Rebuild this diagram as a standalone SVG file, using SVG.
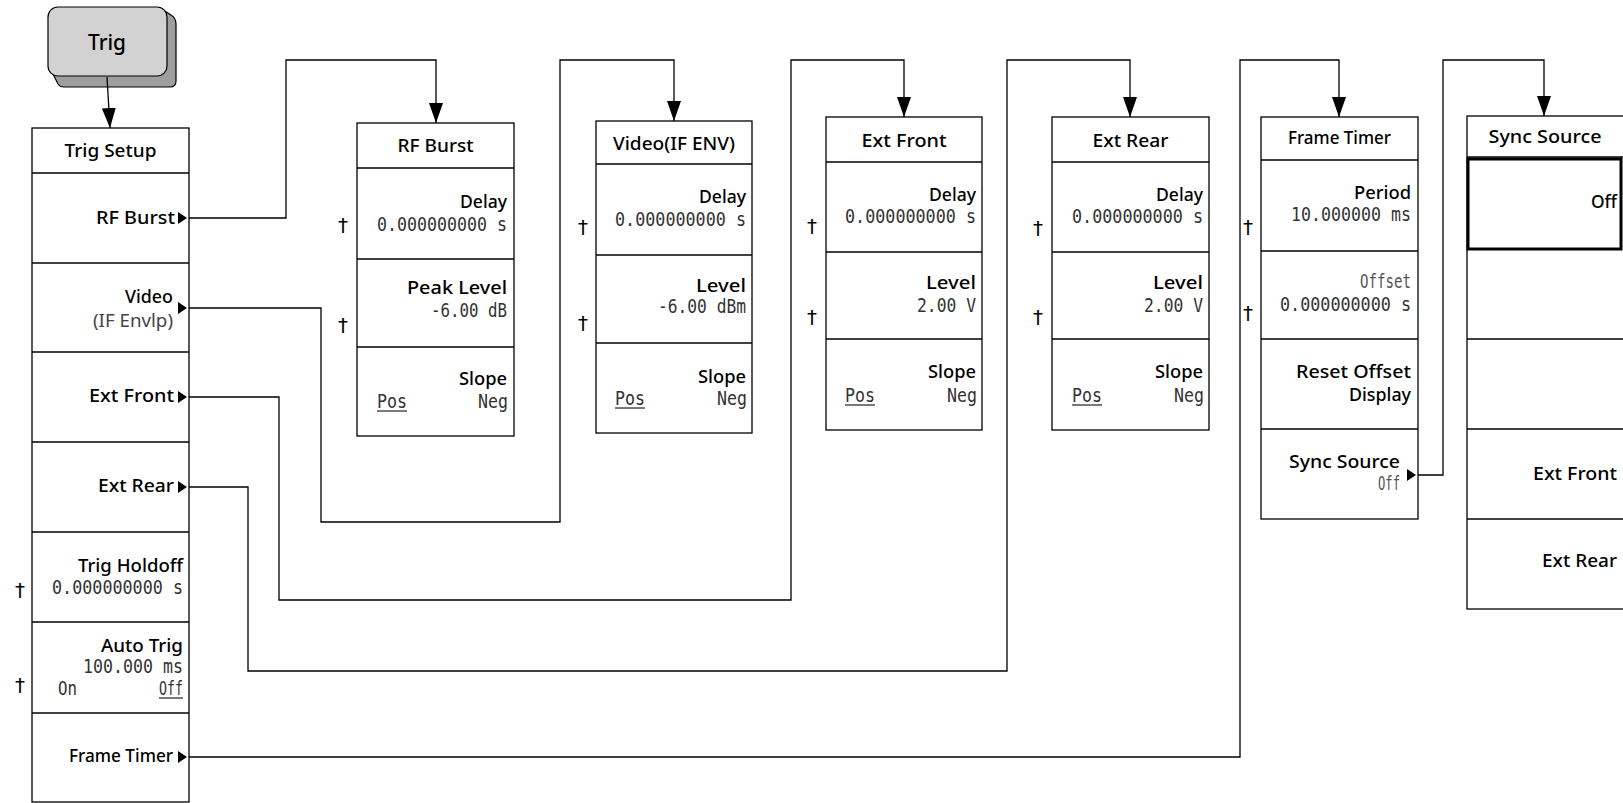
<svg xmlns="http://www.w3.org/2000/svg" width="1623" height="803" viewBox="0 0 1623 803">
<style>
.box{fill:#fff;stroke:#000;stroke-width:1.3}
.dv{stroke:#000;stroke-width:1.3}
.lbl{font-family:"Noto Sans","DejaVu Sans",sans-serif;font-weight:500;font-size:18.5px;fill:#000}
.val{font-family:"DejaVu Sans Mono","Liberation Mono",monospace;font-size:19px;fill:#333}
.lt{font-family:"Noto Sans","DejaVu Sans",sans-serif;font-size:18px;fill:#444}
.dag{font-family:"DejaVu Sans",sans-serif;font-size:20px;fill:#000;text-anchor:middle}
.e{text-anchor:end}
.m{text-anchor:middle}
.wire{fill:none;stroke:#000;stroke-width:1.3}
.tri{fill:#000}
.ul{stroke:#222;stroke-width:1.2}
</style>
<defs>
<marker id="ah" markerUnits="userSpaceOnUse" markerWidth="20" markerHeight="14" viewBox="0 0 20 14" refX="20" refY="7" orient="auto">
<path d="M0,0 L20,7 L0,14 Z" fill="#000"/>
</marker>
</defs>
<rect width="1623" height="803" fill="#fff"/>

<g id="trig">
<path d="M50,68 L58,84 Q60,87 64,87 L170,87 Q176,87 176,81 L176,24 Q176,18 171,15 L160,8 Z" fill="#9e9e9e" stroke="#000" stroke-width="1.2"/>
<rect x="48" y="7" width="119" height="69" rx="10" fill="#d2d2d2" stroke="#000" stroke-width="1.2"/>
<text class="lbl m" x="107" y="50" style="font-size:22px" textLength="38" lengthAdjust="spacingAndGlyphs">Trig</text>
</g>

<g id="connectors">
<path class="wire" d="M107,77 L110,128" marker-end="url(#ah)"/>
<path class="wire" d="M188,218 H286 V60 H436 V123" marker-end="url(#ah)"/>
<path class="wire" d="M188,308 H321 V522 H560 V60 H674 V121" marker-end="url(#ah)"/>
<path class="wire" d="M188,397 H279 V600 H791 V60 H904 V117" marker-end="url(#ah)"/>
<path class="wire" d="M188,487 H248 V671 H1007 V60 H1130 V117" marker-end="url(#ah)"/>
<path class="wire" d="M188,757 H1240 V60 H1339 V117" marker-end="url(#ah)"/>
<path class="wire" d="M1416,475 H1443 V60 H1544 V116" marker-end="url(#ah)"/>
</g>

<g id="trig-setup">
<rect class="box" x="32" y="128" width="157" height="674"/>
<line class="dv" x1="32" y1="173" x2="189" y2="173"/>
<line class="dv" x1="32" y1="263" x2="189" y2="263"/>
<line class="dv" x1="32" y1="352" x2="189" y2="352"/>
<line class="dv" x1="32" y1="442" x2="189" y2="442"/>
<line class="dv" x1="32" y1="532" x2="189" y2="532"/>
<line class="dv" x1="32" y1="622" x2="189" y2="622"/>
<line class="dv" x1="32" y1="713" x2="189" y2="713"/>
<text class="lbl m" x="110.5" y="157" textLength="92" lengthAdjust="spacingAndGlyphs">Trig Setup</text>
<text class="lbl e" x="175" y="224" textLength="79" lengthAdjust="spacingAndGlyphs">RF Burst</text>
<polygon class="tri" points="178,212 187,218 178,224"/>
<text class="lbl e" x="173" y="303" textLength="48" lengthAdjust="spacingAndGlyphs">Video</text>
<text class="lt e" x="173" y="327" textLength="80" lengthAdjust="spacingAndGlyphs">(IF Envlp)</text>
<polygon class="tri" points="178,302 187,308 178,314"/>
<text class="lbl e" x="174" y="402" textLength="85" lengthAdjust="spacingAndGlyphs">Ext Front</text>
<polygon class="tri" points="178,391 187,397 178,403"/>
<text class="lbl e" x="174" y="492" textLength="76" lengthAdjust="spacingAndGlyphs">Ext Rear</text>
<polygon class="tri" points="178,481 187,487 178,493"/>
<text class="lbl e" x="183" y="572" textLength="105" lengthAdjust="spacingAndGlyphs">Trig Holdoff</text>
<text class="val e" x="183" y="594" textLength="131" lengthAdjust="spacingAndGlyphs">0.000000000 s</text>
<text class="dag" x="20" y="597">†</text>
<text class="lbl e" x="183" y="652" textLength="82" lengthAdjust="spacingAndGlyphs">Auto Trig</text>
<text class="val e" x="183" y="673" textLength="100" lengthAdjust="spacingAndGlyphs">100.000 ms</text>
<text class="val" x="58" y="695" textLength="19" lengthAdjust="spacingAndGlyphs">On</text>
<text class="val e" x="183" y="695" textLength="24" lengthAdjust="spacingAndGlyphs">Off</text>
<line class="ul" x1="159" y1="698" x2="183" y2="698"/>
<text class="dag" x="20" y="692">†</text>
<text class="lbl e" x="173" y="762" textLength="104" lengthAdjust="spacingAndGlyphs">Frame Timer</text>
<polygon class="tri" points="178,751 187,757 178,763"/>
</g>

<g id="rf-burst">
<rect class="box" x="357" y="123" width="157" height="313"/>
<line class="dv" x1="357" y1="168" x2="514" y2="168"/>
<line class="dv" x1="357" y1="259" x2="514" y2="259"/>
<line class="dv" x1="357" y1="347" x2="514" y2="347"/>
<text class="lbl m" x="435.5" y="152" textLength="76" lengthAdjust="spacingAndGlyphs">RF Burst</text>
<text class="lbl e" x="507" y="208" textLength="47" lengthAdjust="spacingAndGlyphs">Delay</text>
<text class="val e" x="507" y="231" textLength="130" lengthAdjust="spacingAndGlyphs">0.000000000 s</text>
<text class="lbl e" x="507" y="294" textLength="100" lengthAdjust="spacingAndGlyphs">Peak Level</text>
<text class="val e" x="507" y="317" textLength="76" lengthAdjust="spacingAndGlyphs">-6.00 dB</text>
<text class="lbl e" x="507" y="385" textLength="48" lengthAdjust="spacingAndGlyphs">Slope</text>
<text class="val" x="377" y="408" textLength="30" lengthAdjust="spacingAndGlyphs">Pos</text>
<line class="ul" x1="377" y1="411" x2="407" y2="411"/>
<text class="val e" x="508" y="408" textLength="30" lengthAdjust="spacingAndGlyphs">Neg</text>
<text class="dag" x="343" y="232">†</text>
<text class="dag" x="343" y="332">†</text>
</g>

<g id="video">
<rect class="box" x="596" y="121" width="156" height="312"/>
<line class="dv" x1="596" y1="164" x2="752" y2="164"/>
<line class="dv" x1="596" y1="255" x2="752" y2="255"/>
<line class="dv" x1="596" y1="343" x2="752" y2="343"/>
<text class="lbl m" x="674" y="150" textLength="122" lengthAdjust="spacingAndGlyphs">Video(IF ENV)</text>
<text class="lbl e" x="746" y="203" textLength="47" lengthAdjust="spacingAndGlyphs">Delay</text>
<text class="val e" x="746" y="226" textLength="131" lengthAdjust="spacingAndGlyphs">0.000000000 s</text>
<text class="lbl e" x="746" y="292" textLength="50" lengthAdjust="spacingAndGlyphs">Level</text>
<text class="val e" x="746" y="313" textLength="88" lengthAdjust="spacingAndGlyphs">-6.00 dBm</text>
<text class="lbl e" x="746" y="383" textLength="48" lengthAdjust="spacingAndGlyphs">Slope</text>
<text class="val" x="615" y="405" textLength="30" lengthAdjust="spacingAndGlyphs">Pos</text>
<line class="ul" x1="615" y1="408" x2="645" y2="408"/>
<text class="val e" x="747" y="405" textLength="30" lengthAdjust="spacingAndGlyphs">Neg</text>
<text class="dag" x="583" y="234">†</text>
<text class="dag" x="583" y="330">†</text>
</g>

<g id="ext-front">
<rect class="box" x="826" y="117" width="156" height="313"/>
<line class="dv" x1="826" y1="162" x2="982" y2="162"/>
<line class="dv" x1="826" y1="252" x2="982" y2="252"/>
<line class="dv" x1="826" y1="339" x2="982" y2="339"/>
<text class="lbl m" x="904" y="147" textLength="85" lengthAdjust="spacingAndGlyphs">Ext Front</text>
<text class="lbl e" x="976" y="201" textLength="47" lengthAdjust="spacingAndGlyphs">Delay</text>
<text class="val e" x="976" y="223" textLength="131" lengthAdjust="spacingAndGlyphs">0.000000000 s</text>
<text class="lbl e" x="976" y="289" textLength="50" lengthAdjust="spacingAndGlyphs">Level</text>
<text class="val e" x="976" y="312" textLength="59" lengthAdjust="spacingAndGlyphs">2.00 V</text>
<text class="lbl e" x="976" y="378" textLength="48" lengthAdjust="spacingAndGlyphs">Slope</text>
<text class="val" x="845" y="402" textLength="30" lengthAdjust="spacingAndGlyphs">Pos</text>
<line class="ul" x1="845" y1="405" x2="875" y2="405"/>
<text class="val e" x="977" y="402" textLength="30" lengthAdjust="spacingAndGlyphs">Neg</text>
<text class="dag" x="812" y="233">†</text>
<text class="dag" x="812" y="324">†</text>
</g>

<g id="ext-rear">
<rect class="box" x="1052" y="117" width="157" height="313"/>
<line class="dv" x1="1052" y1="162" x2="1209" y2="162"/>
<line class="dv" x1="1052" y1="252" x2="1209" y2="252"/>
<line class="dv" x1="1052" y1="339" x2="1209" y2="339"/>
<text class="lbl m" x="1130.5" y="147" textLength="76" lengthAdjust="spacingAndGlyphs">Ext Rear</text>
<text class="lbl e" x="1203" y="201" textLength="47" lengthAdjust="spacingAndGlyphs">Delay</text>
<text class="val e" x="1203" y="223" textLength="131" lengthAdjust="spacingAndGlyphs">0.000000000 s</text>
<text class="lbl e" x="1203" y="289" textLength="50" lengthAdjust="spacingAndGlyphs">Level</text>
<text class="val e" x="1203" y="312" textLength="59" lengthAdjust="spacingAndGlyphs">2.00 V</text>
<text class="lbl e" x="1203" y="378" textLength="48" lengthAdjust="spacingAndGlyphs">Slope</text>
<text class="val" x="1072" y="402" textLength="30" lengthAdjust="spacingAndGlyphs">Pos</text>
<line class="ul" x1="1072" y1="405" x2="1102" y2="405"/>
<text class="val e" x="1204" y="402" textLength="30" lengthAdjust="spacingAndGlyphs">Neg</text>
<text class="dag" x="1038" y="235">†</text>
<text class="dag" x="1038" y="324">†</text>
</g>

<g id="frame-timer">
<rect class="box" x="1261" y="117" width="157" height="402"/>
<line class="dv" x1="1261" y1="160" x2="1418" y2="160"/>
<line class="dv" x1="1261" y1="251" x2="1418" y2="251"/>
<line class="dv" x1="1261" y1="339" x2="1418" y2="339"/>
<line class="dv" x1="1261" y1="429" x2="1418" y2="429"/>
<text class="lbl m" x="1339.5" y="144" textLength="103" lengthAdjust="spacingAndGlyphs">Frame Timer</text>
<text class="lbl e" x="1411" y="199" textLength="57" lengthAdjust="spacingAndGlyphs">Period</text>
<text class="val e" x="1411" y="221" textLength="120" lengthAdjust="spacingAndGlyphs">10.000000 ms</text>
<text class="val e" x="1411" y="288" textLength="51" lengthAdjust="spacingAndGlyphs" style="fill:#555">Offset</text>
<text class="val e" x="1411" y="311" textLength="131" lengthAdjust="spacingAndGlyphs">0.000000000 s</text>
<text class="lbl e" x="1411" y="378" textLength="115" lengthAdjust="spacingAndGlyphs">Reset Offset</text>
<text class="lbl e" x="1411" y="401" textLength="62" lengthAdjust="spacingAndGlyphs">Display</text>
<text class="lbl e" x="1400" y="468" textLength="111" lengthAdjust="spacingAndGlyphs">Sync Source</text>
<text class="val e" x="1400" y="490" textLength="22" lengthAdjust="spacingAndGlyphs" style="fill:#555">Off</text>
<polygon class="tri" points="1407,469 1416,475 1407,481"/>
<text class="dag" x="1248" y="234">†</text>
<text class="dag" x="1248" y="320">†</text>
</g>

<g id="sync-source">
<rect class="box" x="1467" y="116" width="157" height="493"/>
<line class="dv" x1="1467" y1="157" x2="1624" y2="157"/>
<line class="dv" x1="1467" y1="339" x2="1624" y2="339"/>
<line class="dv" x1="1467" y1="429" x2="1624" y2="429"/>
<line class="dv" x1="1467" y1="519" x2="1624" y2="519"/>
<rect x="1468" y="159" width="153" height="90" fill="none" stroke="#000" stroke-width="3"/>
<text class="lbl m" x="1545" y="143" textLength="113" lengthAdjust="spacingAndGlyphs">Sync Source</text>
<text class="lbl e" x="1617" y="208" textLength="26" lengthAdjust="spacingAndGlyphs">Off</text>
<text class="lbl e" x="1617" y="480" textLength="84" lengthAdjust="spacingAndGlyphs">Ext Front</text>
<text class="lbl e" x="1617" y="567" textLength="75" lengthAdjust="spacingAndGlyphs">Ext Rear</text>
</g>
</svg>
